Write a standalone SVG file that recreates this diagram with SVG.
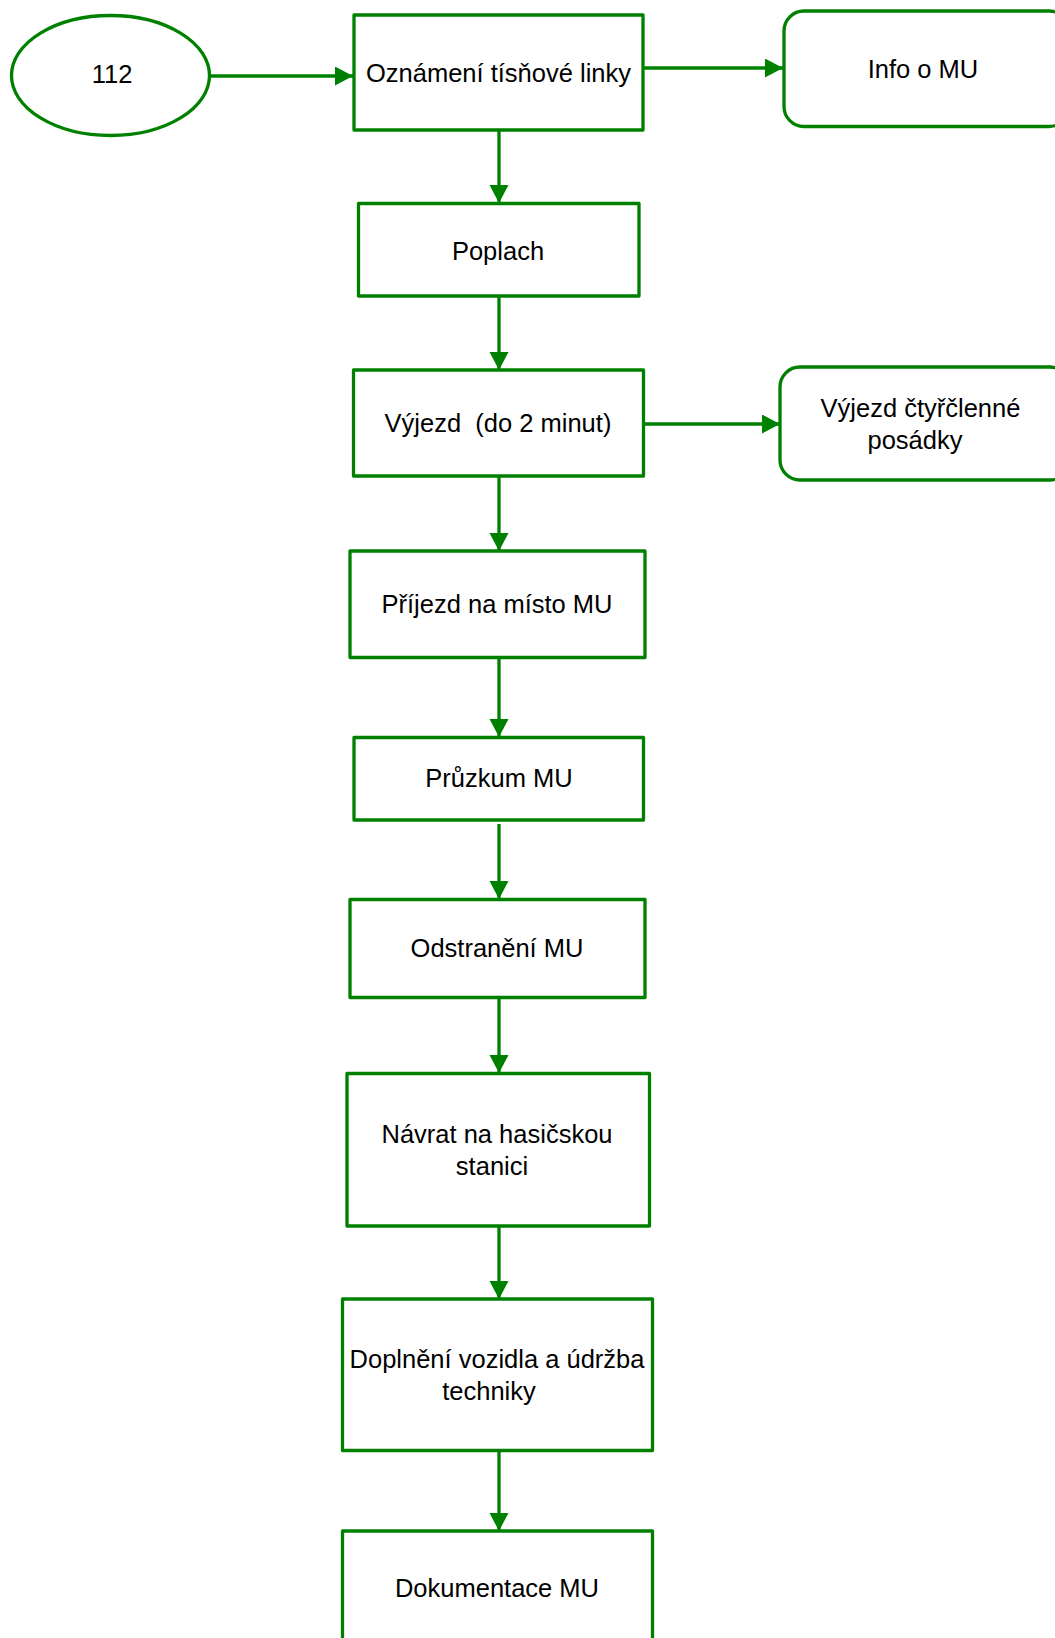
<svg xmlns="http://www.w3.org/2000/svg" width="1055" height="1638" viewBox="0 0 1055 1638">
<style>
.n{fill:#ffffff;stroke:#008000;stroke-width:3.3;stroke-linejoin:round}
.c{fill:none;stroke:#008000;stroke-width:3.3}
.t{font-family:"Liberation Sans",Arial,sans-serif;font-size:25.5px;fill:#000000;text-anchor:middle}
</style>
<defs>
<marker id="ah" markerUnits="userSpaceOnUse" markerWidth="20" markerHeight="20" refX="18" refY="9.5" orient="auto" viewBox="0 0 20 20">
<path d="M0,0 L18,9.5 L0,19 z" fill="#008000"/>
</marker>
</defs>
<rect width="1055" height="1638" fill="#ffffff"/>
<g id="connectors">
<line class="c" x1="210" y1="76" x2="353" y2="76" marker-end="url(#ah)"/>
<line class="c" x1="643" y1="68" x2="783" y2="68" marker-end="url(#ah)"/>
<line class="c" x1="499" y1="130" x2="499" y2="203" marker-end="url(#ah)"/>
<line class="c" x1="499" y1="296" x2="499" y2="370" marker-end="url(#ah)"/>
<line class="c" x1="643" y1="424" x2="780" y2="424" marker-end="url(#ah)"/>
<line class="c" x1="499" y1="476" x2="499" y2="551" marker-end="url(#ah)"/>
<line class="c" x1="499" y1="657" x2="499" y2="737" marker-end="url(#ah)"/>
<line class="c" x1="499" y1="824" x2="499" y2="899" marker-end="url(#ah)"/>
<line class="c" x1="499" y1="997" x2="499" y2="1073" marker-end="url(#ah)"/>
<line class="c" x1="499" y1="1226" x2="499" y2="1299" marker-end="url(#ah)"/>
<line class="c" x1="499" y1="1451" x2="499" y2="1531" marker-end="url(#ah)"/>
</g>
<g id="n112">
<ellipse class="n" cx="110.5" cy="75.5" rx="99" ry="60"/>
<text class="t" x="112" y="83">112</text>
</g>
<g id="oznameni">
<rect class="n" x="354" y="15" width="289" height="115"/>
<text class="t" x="498.5" y="82">Oznámení tísňové linky</text>
</g>
<g id="info">
<rect class="n" x="784" y="11" width="285" height="115.5" rx="20" ry="20"/>
<text class="t" x="923" y="78">Info o MU</text>
</g>
<g id="poplach">
<rect class="n" x="358.5" y="203.5" width="280.5" height="92.5"/>
<text class="t" x="498" y="260">Poplach</text>
</g>
<g id="vyjezd">
<rect class="n" x="353.5" y="370" width="290" height="106"/>
<text class="t" x="498" y="432" xml:space="preserve">Výjezd  (do 2 minut)</text>
</g>
<g id="posadka">
<rect class="n" x="780" y="367" width="290" height="113" rx="20" ry="20"/>
<text class="t" x="920.5" y="417">Výjezd čtyřčlenné</text>
<text class="t" x="915" y="449">posádky</text>
</g>
<g id="prijezd">
<rect class="n" x="350" y="551" width="295" height="106.5"/>
<text class="t" x="497" y="613">Příjezd na místo MU</text>
</g>
<g id="pruzkum">
<rect class="n" x="354" y="737.5" width="289.5" height="82.5"/>
<text class="t" x="499" y="787">Průzkum MU</text>
</g>
<g id="odstraneni">
<rect class="n" x="350" y="899.5" width="295" height="98"/>
<text class="t" x="497" y="957">Odstranění MU</text>
</g>
<g id="navrat">
<rect class="n" x="347" y="1073.5" width="302.5" height="152.5"/>
<text class="t" x="497" y="1143">Návrat na hasičskou</text>
<text class="t" x="492" y="1175">stanici</text>
</g>
<g id="doplneni">
<rect class="n" x="342.5" y="1299" width="310" height="151.5"/>
<text class="t" x="497" y="1368">Doplnění vozidla a údržba</text>
<text class="t" x="489" y="1400">techniky</text>
</g>
<g id="dokumentace">
<rect class="n" x="342.5" y="1531" width="310" height="130"/>
<text class="t" x="497" y="1597">Dokumentace MU</text>
</g>
</svg>
